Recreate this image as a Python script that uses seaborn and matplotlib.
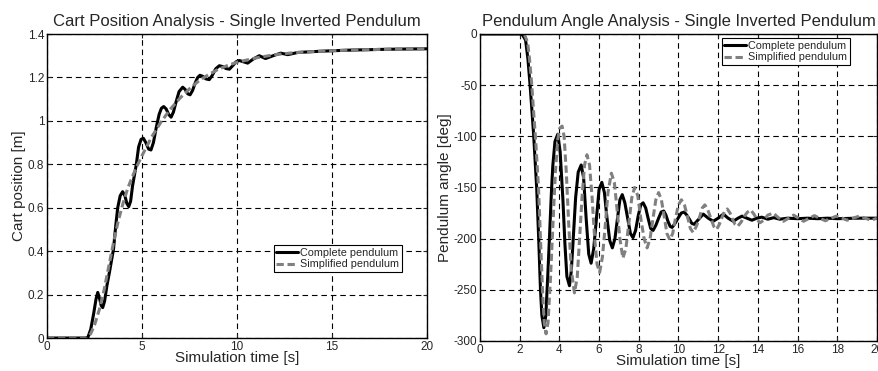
import numpy as np
import pandas as pd
import matplotlib
matplotlib.use("Agg")
import matplotlib.pyplot as plt
import seaborn as sns

# Cart position, complete pendulum (time [s], position [m])
cart_t_complete = [0, 2.0, 2.15, 2.3, 2.45, 2.58, 2.67, 2.77, 2.85, 2.93, 3.03, 3.15, 3.3, 3.5,
                   3.62, 3.72, 3.85, 3.98, 4.1, 4.2, 4.3, 4.4, 4.5, 4.6, 4.7, 4.82, 4.95, 5.07,
                   5.2, 5.35, 5.47, 5.6, 5.75, 5.9, 6.02, 6.14, 6.27, 6.4, 6.53, 6.65, 6.8, 6.95,
                   7.14, 7.27, 7.4, 7.53, 7.66, 7.8, 7.93, 8.05, 8.2, 8.37, 8.54, 8.7, 8.88, 9.07,
                   9.25, 9.42, 9.6, 9.78, 9.95, 10.12, 10.34, 10.56, 10.86, 11.17, 11.5, 11.9,
                   12.3, 12.67, 13.2, 14, 15, 16, 17, 18, 19, 20]
cart_x_complete = [0, 0, 0.003, 0.04, 0.11, 0.18, 0.21, 0.18, 0.15, 0.14, 0.17, 0.24, 0.31, 0.41,
                   0.52, 0.6, 0.655, 0.674, 0.655, 0.62, 0.605, 0.63, 0.7, 0.75, 0.8, 0.88, 0.915, 0.92,
                   0.9, 0.87, 0.866, 0.9, 0.97, 1.03, 1.058, 1.066, 1.055, 1.03, 1.017, 1.04, 1.09, 1.135,
                   1.155, 1.145, 1.125, 1.12, 1.14, 1.175, 1.2, 1.21, 1.205, 1.193, 1.19, 1.21, 1.24, 1.254,
                   1.25, 1.241, 1.238, 1.255, 1.272, 1.278, 1.272, 1.266, 1.285, 1.30, 1.287, 1.3,
                   1.312, 1.305, 1.315, 1.319, 1.323, 1.326, 1.328, 1.330, 1.331, 1.332]

# Cart position, simplified pendulum
cart_t_simple = [0, 2.1, 2.3, 2.5, 2.75, 3.0, 3.25, 3.5, 3.75, 4.0, 4.25, 4.5, 4.75, 5.0, 5.5,
                 6.0, 6.5, 7.0, 7.5, 8.0, 8.5, 9.0, 9.5, 10.0, 11, 12, 13, 14, 15, 16, 17, 18, 19, 20]
cart_x_simple = [0, 0, 0.02, 0.06, 0.13, 0.22, 0.33, 0.44, 0.54, 0.62, 0.69, 0.745, 0.795, 0.84, 0.925,
                 0.995, 1.055, 1.105, 1.148, 1.185, 1.213, 1.237, 1.255, 1.27, 1.29, 1.305, 1.314,
                 1.319, 1.323, 1.326, 1.328, 1.33, 1.331, 1.332]

# Pendulum angle, complete pendulum (time [s], angle [deg])
ang_t_complete = [0, 2.0, 2.15, 2.3, 2.42, 2.53, 2.62, 2.71, 2.86, 2.96, 3.05, 3.12, 3.22, 3.32,
                  3.42, 3.5, 3.6, 3.67, 3.78, 3.92, 4.04, 4.18, 4.28, 4.38, 4.51, 4.6, 4.7, 4.82,
                  4.95, 5.1, 5.22, 5.35, 5.48, 5.6, 5.73, 5.87, 6.0, 6.14, 6.27, 6.4, 6.54, 6.67,
                  6.8, 6.93, 7.05, 7.17, 7.3, 7.44, 7.58, 7.71, 7.84, 7.97, 8.1, 8.22, 8.35, 8.47,
                  8.6, 8.72, 8.86, 9.0, 9.13, 9.26, 9.37, 9.47, 9.58, 9.68, 9.83, 9.98, 10.14,
                  10.29, 10.42, 10.55, 10.67, 10.79, 11.02, 11.25, 11.5, 11.75, 12.0, 12.26, 12.5,
                  12.76, 13.0, 13.2, 13.45, 13.7, 13.95, 14.2, 14.5, 14.8, 15.1, 15.5, 16, 16.5,
                  17, 17.5, 18, 19, 20]
ang_v_complete = [0, 0, -1, -6, -25, -51, -75, -100, -151, -200, -250, -275, -287, -275,
                  -235, -200, -155, -129, -105, -98, -115, -162, -205, -237, -246, -232, -200, -160,
                  -135, -128, -140, -180, -215, -224, -210, -180, -152, -145, -155, -180, -202, -209,
                  -200, -180, -162, -157, -165, -180, -195, -199, -192, -178, -167, -165, -170, -180,
                  -190, -192, -187, -180, -174, -173, -177, -183, -188, -189, -185, -180, -175,
                  -174, -177, -181, -185, -186, -181, -176, -180, -183, -180, -176, -180,
                  -183, -180, -178, -180, -182, -180, -179, -181, -179.5, -181, -180, -180.5, -180,
                  -180.5, -180, -180.5, -180, -180]

# Pendulum angle, simplified pendulum
ang_t_simple = [0, 2.1, 2.25, 2.4, 2.5, 2.6, 2.7, 2.8, 2.95, 3.05, 3.15, 3.24, 3.33, 3.43, 3.55,
                3.68, 3.8, 3.92, 4.02, 4.14, 4.24, 4.35, 4.47, 4.6, 4.76, 4.9, 5.02, 5.14, 5.27,
                5.39, 5.52, 5.65, 5.78, 5.9, 6.03, 6.17, 6.3, 6.45, 6.62, 6.77, 6.9, 7.05, 7.2,
                7.35, 7.5, 7.65, 7.79, 7.95, 8.1, 8.27, 8.42, 8.57, 8.72, 8.86, 9.0, 9.14, 9.28,
                9.42, 9.56, 9.71, 9.85, 10.0, 10.15, 10.3, 10.45, 10.6, 10.74, 10.9, 11.05, 11.2,
                11.33, 11.48, 11.63, 11.78, 11.92, 12.06, 12.2, 12.33, 12.46, 12.6, 12.72, 12.85,
                12.98, 13.15, 13.32, 13.48, 13.64, 13.8, 13.95, 14.1, 14.3, 14.5, 14.78, 15.0,
                15.29, 15.55, 15.8, 16.05, 16.3, 16.6, 16.85, 17.1, 17.4, 17.7, 17.95, 18.25,
                18.5, 18.8, 19.1, 19.4, 19.7, 20.0]
ang_v_simple = [0, 0, -1, -8, -25, -47, -75, -102, -150, -200, -250, -282, -293, -282, -240,
                -185, -135, -103, -92, -90, -100, -135, -185, -230, -253, -238, -200, -160, -128,
                -118, -128, -160, -200, -225, -233, -218, -190, -155, -136, -145, -170, -200, -219,
                -210, -185, -160, -150, -158, -180, -200, -209, -200, -180, -162, -155, -162, -178,
                -195, -201, -195, -180, -167, -162, -167, -178, -190, -194, -188, -180, -170,
                -167, -172, -180, -188, -191, -186, -179, -173, -171, -175, -181, -186,
                -188, -184, -178, -174, -172, -176, -181, -184.5, -182, -177, -175, -179,
                -183, -180, -177, -180, -183, -180, -177.5, -180, -182.5, -180, -178, -180,
                -182, -180, -178, -180, -182, -180]

cart = pd.concat([
    pd.DataFrame({'t': cart_t_complete, 'v': cart_x_complete, 'model': 'Complete pendulum'}),
    pd.DataFrame({'t': cart_t_simple, 'v': cart_x_simple, 'model': 'Simplified pendulum'}),
])
angle = pd.concat([
    pd.DataFrame({'t': ang_t_complete, 'v': ang_v_complete, 'model': 'Complete pendulum'}),
    pd.DataFrame({'t': ang_t_simple, 'v': ang_v_simple, 'model': 'Simplified pendulum'}),
])

sns.set_style("white")
plt.rcParams['font.family'] = ['Liberation Sans', 'DejaVu Sans']

fig = plt.figure(figsize=(8.79, 3.71), dpi=100)
ax1 = fig.add_axes([0.0535, 0.0889, 0.4323, 0.8194])
ax2 = fig.add_axes([0.546, 0.0809, 0.4517, 0.8275])

palette = {'Complete pendulum': 'black', 'Simplified pendulum': '#808080'}
styles = {'Complete pendulum': '', 'Simplified pendulum': (2.4, 1.2)}


def draw(ax, df, title, ylabel, xticks, yticks, ylim, legend_anchor, legend_loc):
    sns.lineplot(data=df, x='t', y='v', hue='model', style='model', palette=palette,
                 dashes=styles, linewidth=2.2, sort=False, estimator=None, ax=ax)
    ax.set_xlim(0, 20)
    ax.set_ylim(*ylim)
    ax.set_xticks(xticks)
    ax.set_yticks(yticks)
    ax.set_xticklabels([f'{v:g}' for v in xticks])
    ax.set_yticklabels([f'{v:g}' for v in yticks])
    ax.grid(True, color='black', linestyle=(0, (5, 3.5)), linewidth=0.8)
    ax.set_axisbelow(True)
    for s in ax.spines.values():
        s.set_visible(True)
        s.set_color('black')
        s.set_linewidth(1.0)
    ax.tick_params(direction='in', length=3, width=0.8, labelsize=8.5, pad=2,
                   top=True, right=True, bottom=True, left=True)
    ax.set_title(title, fontsize=12, pad=6)
    ax.set_xlabel('Simulation time [s]', fontsize=11, labelpad=-1)
    ax.set_ylabel(ylabel, fontsize=11, labelpad=1)
    leg = ax.legend(loc=legend_loc, bbox_to_anchor=legend_anchor, fontsize=7.8,
                    frameon=True, fancybox=False, handlelength=2.0, handletextpad=0.2,
                    borderpad=0.25, labelspacing=0.15, borderaxespad=0)
    leg.get_frame().set_edgecolor('black')
    leg.get_frame().set_linewidth(0.8)
    leg.get_frame().set_alpha(1)


draw(ax1, cart, 'Cart Position Analysis - Single Inverted Pendulum', 'Cart position [m]',
     [0, 5, 10, 15, 20], [0, 0.2, 0.4, 0.6, 0.8, 1, 1.2, 1.4], (0, 1.4),
     (0.934, 0.217), 'lower right')
draw(ax2, angle, 'Pendulum Angle Analysis - Single Inverted Pendulum', 'Pendulum angle [deg]',
     list(range(0, 21, 2)), list(range(-300, 1, 50)), (-300, 0),
     (0.932, 0.987), 'upper right')

fig.savefig('out.png', dpi=100)
